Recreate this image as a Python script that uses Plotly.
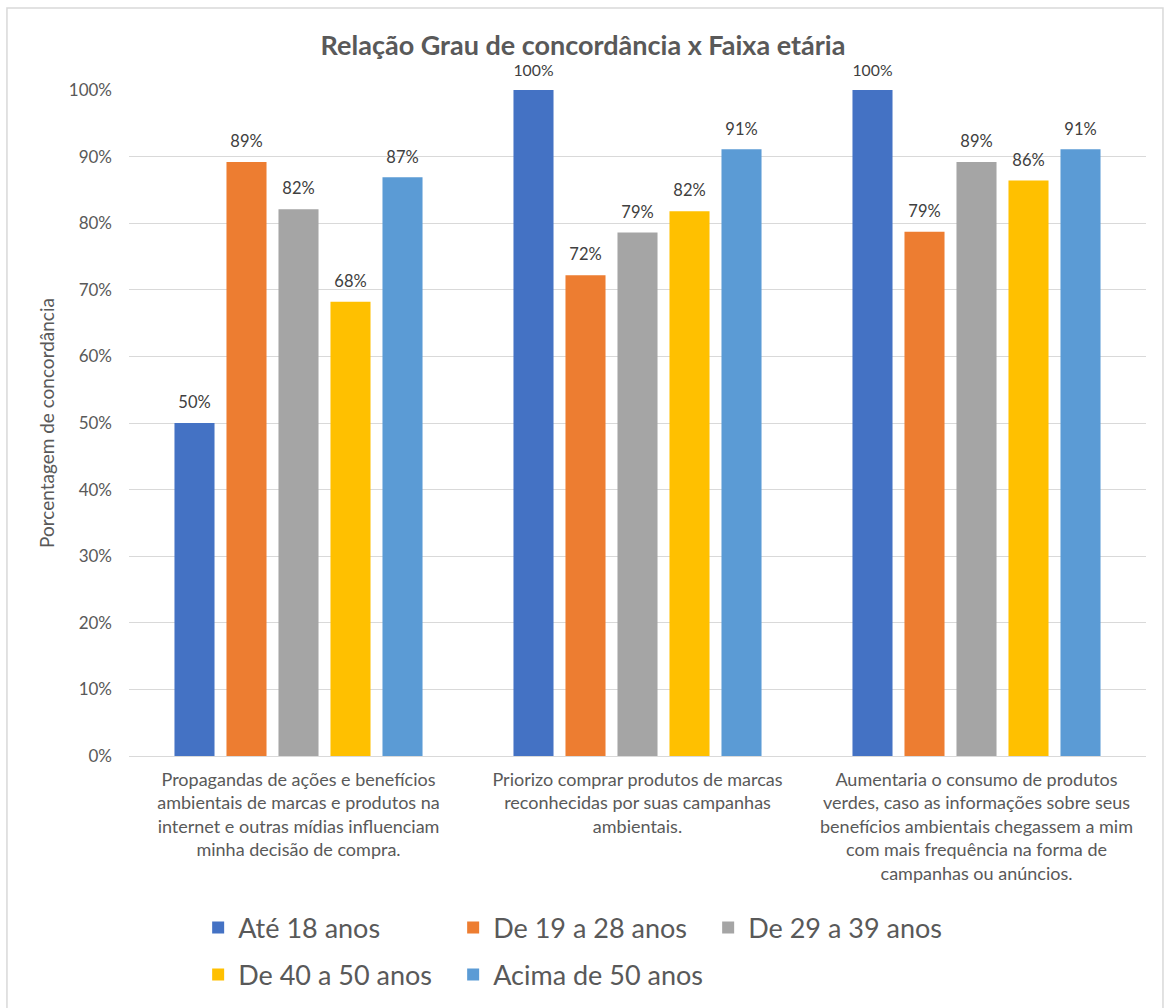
import plotly.graph_objects as go

categories = [
    "Propagandas de ações e benefícios<br>ambientais de marcas e produtos na<br>internet e outras mídias influenciam<br>minha decisão de compra.",
    "Priorizo comprar produtos de marcas<br>reconhecidas por suas campanhas<br>ambientais.",
    "Aumentaria o consumo de produtos<br>verdes, caso as informações sobre seus<br>benefícios ambientais chegassem a mim<br>com mais frequência na forma de<br>campanhas ou anúncios.",
]
series_names = ["Até 18 anos", "De 19 a 28 anos", "De 29 a 39 anos", "De 40 a 50 anos", "Acima de 50 anos"]
ate_18 = [0.50, 1.00, 1.00]
de_19_28 = [0.892, 0.722, 0.787]
de_29_39 = [0.821, 0.786, 0.892]
de_40_50 = [0.682, 0.818, 0.864]
acima_50 = [0.869, 0.911, 0.911]
series_values = [ate_18, de_19_28, de_29_39, de_40_50, acima_50]
colors = ["#4472C4", "#ED7D31", "#A5A5A5", "#FFC000", "#5B9BD5"]
legend_ids = ["legend", "legend", "legend", "legend2", "legend2"]

FONT = "Lato, 'Open Sans', sans-serif"
GRAY = "#595959"

fig = go.Figure()
for name, vals, col, lg in zip(series_names, series_values, colors, legend_ids):
    fig.add_trace(go.Bar(
        name=name, x=categories, y=vals, marker_color=col, marker_line_width=0,
        text=vals,
        texttemplate="<span style='font-size:16.5px'>%{y:.0%}</span><br> ",
        textposition="outside",
        textfont=dict(family=FONT, size=7.5, color="#404040"),
        cliponaxis=False, legend=lg,
    ))

fig.update_layout(
    width=1166, height=1008,
    margin=dict(l=129, r=20, t=90, b=252),
    paper_bgcolor="white", plot_bgcolor="white",
    barmode="group", bargap=0.233, bargroupgap=0.23,
    title=dict(text="<b>Relação Grau de concordância x Faixa etária</b>",
               x=0.5, xanchor="center", y=0.955, yanchor="middle",
               font=dict(family=FONT, size=27, color=GRAY)),
    font=dict(family=FONT, color=GRAY),
    yaxis=dict(range=[0, 1], tickformat=".0%", dtick=0.1,
               showgrid=True, gridcolor="#D9D9D9", gridwidth=1,
               zeroline=True, zerolinecolor="#D9D9D9", zerolinewidth=1,
               tickfont=dict(family=FONT, size=17, color=GRAY),
               ticks="", ticklabelstandoff=16,
               title=dict(text="Porcentagem de concordância", standoff=9,
                          font=dict(family=FONT, size=19, color=GRAY))),
    xaxis=dict(tickfont=dict(family=FONT, size=18, color=GRAY), ticks="",
               showline=False, tickangle=0, ticklabelstandoff=11, automargin=False),
    legend=dict(orientation="h", x=0.068, xanchor="left",
                yref="container", y=1 - 928 / 1008, yanchor="middle",
                font=dict(family=FONT, size=27, color=GRAY), entrywidth=210,
                traceorder="normal", itemclick=False),
    legend2=dict(orientation="h", x=0.068, xanchor="left",
                 yref="container", y=1 - 975 / 1008, yanchor="middle",
                 font=dict(family=FONT, size=27, color=GRAY), entrywidth=210,
                 traceorder="normal", itemclick=False),
    shapes=[dict(type="rect", xref="paper", yref="paper",
                 x0=-0.12, x1=1.0167, y0=-0.389, y1=1.123,
                 line=dict(color="#D9D9D9", width=1.5), layer="below")],
)

fig.write_html("out.html")
